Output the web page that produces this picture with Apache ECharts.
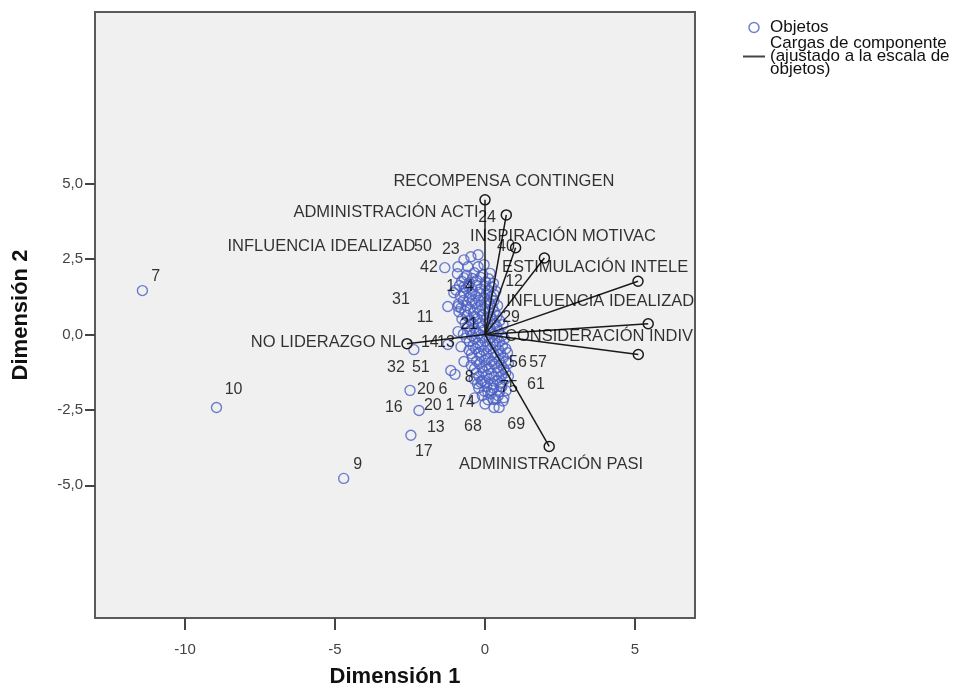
<!DOCTYPE html>
<html><head><meta charset="utf-8">
<script src="https://cdn.jsdelivr.net/npm/echarts@6/dist/echarts.min.js"></script>
<style>html,body{margin:0;padding:0;background:#fff}#c{width:966px;height:694px}</style>
</head><body><div id="c"></div>
<script>
// ---- data ----
const xTicks = [-10, -5, 0, 5];
const yTicks = [-5, -2.5, 0, 2.5, 5];

const objects = [
  [-11.42,1.46],[-8.95,-2.42],[-4.71,-4.77],[-2.47,-3.34],[-2.2,-2.52],[-2.5,-1.85],[-2.37,-0.5],
  [-1.34,2.22],[-1.14,-1.19],[-1.0,-1.32],[-0.7,-0.89],[-0.8,-0.4],[-0.9,0.1],[-0.87,0.76],
  [0.1,-1.92],[0.27,-2.15],[0.47,-2.42],[0.3,-2.42],[0.63,-2.09],[-0.13,-1.59],[0.53,-1.72],
  [-0.47,2.58],[-0.23,2.65],[-0.7,2.48],[-0.9,2.25],[-0.57,2.25],[-0.23,2.25],[-0.03,2.32],
  [-1.24,0.93],[-0.9,0.93],[-1.04,1.39],[-0.7,1.59],[-1.24,-0.33],[-0.35,-2.1],[0.0,-2.3],
  [-0.92,2.02],[-0.61,1.97],[-0.36,2.05],[-0.08,1.98],[0.17,2.03],
  [-0.7,1.88],[-0.42,1.86],[-0.15,1.9],[0.12,1.85],
  [-0.78,1.77],[-0.52,1.72],[-0.27,1.8],[0.02,1.74],[0.28,1.7],
  [-0.85,1.63],[-0.55,1.6],[-0.28,1.64],[0.0,1.61],[0.22,1.58],
  [-0.97,1.48],[-0.63,1.53],[-0.42,1.46],[-0.14,1.52],[0.12,1.47],[0.36,1.44],
  [-0.7,1.38],[-0.45,1.34],[-0.2,1.4],[0.05,1.36],[0.3,1.33],
  [-0.82,1.27],[-0.53,1.22],[-0.31,1.28],[-0.04,1.23],[0.21,1.26],
  [-0.72,1.13],[-0.44,1.1],[-0.2,1.14],[0.06,1.09],[0.3,1.12],
  [-0.88,1.02],[-0.62,0.97],[-0.33,1.04],[-0.12,0.98],[0.16,1.01],[0.42,0.96],
  [-0.8,0.88],[-0.5,0.85],[-0.26,0.9],[0.0,0.86],[0.25,0.88],
  [-0.67,0.77],[-0.38,0.72],[-0.17,0.78],[0.11,0.73],[0.31,0.76],
  [-0.6,0.63],[-0.35,0.6],[-0.08,0.65],[0.18,0.61],[0.4,0.62],
  [-0.77,0.52],[-0.48,0.47],[-0.26,0.53],[0.02,0.48],[0.24,0.51],[0.49,0.46],
  [-0.66,0.38],[-0.4,0.35],[-0.15,0.39],[0.1,0.36],[0.33,0.37],[0.6,0.33],
  [-0.58,0.27],[-0.36,0.22],[-0.09,0.28],[0.16,0.23],[0.39,0.26],
  [-0.5,0.13],[-0.3,0.1],[-0.05,0.14],[0.2,0.11],[0.45,0.12],
  [-0.72,0.02],[-0.44,-0.03],[-0.21,0.03],[0.06,-0.02],[0.29,0.01],[0.56,-0.04],
  [-0.62,-0.11],[-0.35,-0.14],[-0.1,-0.1],[0.15,-0.13],[0.4,-0.11],[0.65,-0.14],
  [-0.52,-0.23],[-0.24,-0.28],[0.01,-0.22],[0.26,-0.27],[0.48,-0.24],
  [-0.4,-0.38],[-0.15,-0.35],[0.1,-0.39],[0.35,-0.36],[0.58,-0.38],
  [-0.53,-0.52],[-0.31,-0.47],[-0.04,-0.53],[0.19,-0.48],[0.46,-0.51],[0.69,-0.47],
  [-0.45,-0.63],[-0.2,-0.6],[0.05,-0.64],[0.28,-0.61],[0.52,-0.63],[0.75,-0.6],
  [-0.42,-0.77],[-0.14,-0.72],[0.11,-0.78],[0.34,-0.73],[0.61,-0.76],
  [-0.28,-0.88],[-0.02,-0.85],[0.22,-0.89],[0.47,-0.86],[0.7,-0.88],
  [-0.46,-1.02],[-0.19,-0.97],[0.04,-1.03],[0.31,-0.98],[0.54,-1.01],[0.78,-0.96],
  [-0.35,-1.13],[-0.1,-1.1],[0.14,-1.14],[0.4,-1.11],[0.63,-1.13],
  [-0.29,-1.27],[-0.06,-1.22],[0.21,-1.28],[0.44,-1.23],[0.69,-1.26],
  [-0.2,-1.38],[0.05,-1.35],[0.3,-1.39],[0.55,-1.36],[0.78,-1.38],
  [-0.36,-1.48],[-0.09,-1.53],[0.14,-1.47],[0.41,-1.52],[0.66,-1.49],
  [-0.25,-1.63],[0.0,-1.6],[0.27,-1.64],[0.5,-1.61],
  [-0.21,-1.77],[0.06,-1.72],[0.29,-1.78],[0.56,-1.74],
  [-0.02,-1.88],[0.22,-1.85],[0.48,-1.89],[0.7,-1.86],
  [-0.09,-2.02],[0.19,-1.97],[0.44,-2.03],
  [0.1,-2.16],[0.36,-2.14],[0.6,-2.2]
];

const objectLabelText = ["7","10","9","24","50","23","40","42","1","4","12","31","11","21","29","14","13","56","57","32","51","8","20","6","75","61","16","20","1","74","13","68","69","17"];
const objectLabelX = [-10.98,-8.38,-4.24,0.07,-2.07,-1.14,0.7,-1.87,-1.14,-0.53,0.97,-2.8,-2.0,-0.53,0.87,-1.84,-1.3,1.1,1.77,-2.97,-2.14,-0.53,-1.97,-1.4,0.8,1.7,-3.04,-1.74,-1.17,-0.63,-1.64,-0.4,1.04,-2.04];
const objectLabelY = [1.92,-1.82,-4.3,3.87,2.91,2.81,2.91,2.22,1.59,1.59,1.75,1.16,0.56,0.33,0.55,-0.26,-0.26,-0.93,-0.93,-1.1,-1.1,-1.42,-1.82,-1.82,-1.75,-1.66,-2.42,-2.35,-2.35,-2.25,-3.08,-3.05,-2.98,-3.87];

const loadingNames = ["RECOMPENSA CONTINGEN","ADMINISTRACIÓN ACTI","INSPIRACIÓN MOTIVAC","ESTIMULACIÓN INTELE","INFLUENCIA IDEALIZAD","CONSIDERACIÓN INDIV","INFLUENCIA IDEALIZAD","NO LIDERAZGO NL","ADMINISTRACIÓN PASI"];
const loadingX = [0.0, 0.71, 1.02, 1.98, 5.1, 5.44, 5.11, -2.6, 2.14];
const loadingY = [4.47, 3.97, 2.88, 2.54, 1.77, 0.36, -0.66, -0.3, -3.71];
const loadingLabelX = [0.63, -3.3, 2.6, 3.67, 3.84, 3.8, -5.45, -5.3, 2.2];
const loadingLabelY = [5.07, 4.04, 3.25, 2.22, 1.09, -0.07, 2.91, -0.26, -4.3];

// ---- chart ----
const F = '"Liberation Sans", Arial, sans-serif';
const LNAME = 'Cargas de componente\n(ajustado a la escala de\nobjetos)';
const BLUE = '#4a5fc4';
const fmtY = v => v.toFixed(1).replace('.', ',');

const chart = echarts.init(document.getElementById('c'), null, {renderer: 'canvas'});

const loadingSeries = loadingNames.map((n, i) => ({
  type: 'line', name: LNAME, silent: true, z: 3,
  data: [[0, 0], [loadingX[i], loadingY[i]]],
  symbol: 'circle', showAllSymbol: true,
  symbolSize: (v, p) => p.dataIndex === 0 ? 0 : 10,
  lineStyle: {color: '#1a1a1a', width: 1.5},
  itemStyle: {color: 'rgba(0,0,0,0)', borderColor: '#1a1a1a', borderWidth: 1.5}
}));

const option = {
  animation: false,
  textStyle: {fontFamily: F},
  grid: {left: 95, top: 12, width: 600, height: 606, show: true,
         backgroundColor: '#f0f0f0', borderColor: '#5a5a5a', borderWidth: 2},
  xAxis: {
    type: 'value', min: -13, max: 7,
    splitLine: {show: false},
    axisLine: {show: true, onZero: false, lineStyle: {color: '#5a5a5a', width: 2}},
    axisTick: {show: true, length: 12, customValues: xTicks, lineStyle: {color: '#444', width: 2}},
    axisLabel: {customValues: xTicks, margin: 24, fontSize: 15, color: '#444', fontFamily: F},
    name: 'Dimensión 1', nameLocation: 'middle', nameGap: 48,
    nameTextStyle: {fontSize: 22, fontWeight: 'bold', color: '#111', fontFamily: F}
  },
  yAxis: {
    type: 'value', min: -9.4, max: 10.7,
    splitLine: {show: false},
    axisLine: {show: true, onZero: false, lineStyle: {color: '#5a5a5a', width: 2}},
    axisTick: {show: true, length: 10, customValues: yTicks, lineStyle: {color: '#444', width: 2}},
    axisLabel: {customValues: yTicks, margin: 12, fontSize: 15, color: '#444', fontFamily: F, formatter: fmtY},
    name: 'Dimensión 2', nameLocation: 'middle', nameGap: 63,
    nameTextStyle: {fontSize: 22, fontWeight: 'bold', color: '#111', fontFamily: F}
  },
  legend: {
    orient: 'vertical', left: 738, top: 14, itemWidth: 22, itemHeight: 10, itemGap: -1,
    selectedMode: false,
    textStyle: {fontSize: 17, lineHeight: 13, color: '#111', fontFamily: F},
    data: [
      {name: 'Objetos', icon: 'circle', itemStyle: {color: 'rgba(0,0,0,0)', borderColor: BLUE, borderWidth: 1.5}},
      {name: LNAME, icon: 'path://M0,0L22,0L22,2L0,2Z', itemStyle: {color: '#444', borderWidth: 0}}
    ]
  },
  series: [
    {
      type: 'scatter', name: 'Objetos', z: 2, silent: true,
      data: objects, symbol: 'circle', symbolSize: 10,
      itemStyle: {color: 'rgba(0,0,0,0)', borderColor: BLUE, borderWidth: 1.4}
    },
    ...loadingSeries,
    {
      type: 'scatter', z: 5, silent: true, symbolSize: 1,
      data: objectLabelText.map((t, i) => [objectLabelX[i], objectLabelY[i], t]),
      itemStyle: {color: 'rgba(0,0,0,0)'},
      label: {show: true, position: 'inside', formatter: p => p.data[2], fontSize: 16, color: '#000', fontFamily: F}
    },
    {
      type: 'scatter', z: 6, silent: true, symbolSize: 1,
      data: loadingNames.map((n, i) => [loadingLabelX[i], loadingLabelY[i], n]),
      itemStyle: {color: 'rgba(0,0,0,0)'},
      label: {show: true, position: 'inside', formatter: p => p.data[2], fontSize: 16.5, color: '#000', fontFamily: F}
    }
  ]
};
chart.setOption(option);
</script>
</body></html>
